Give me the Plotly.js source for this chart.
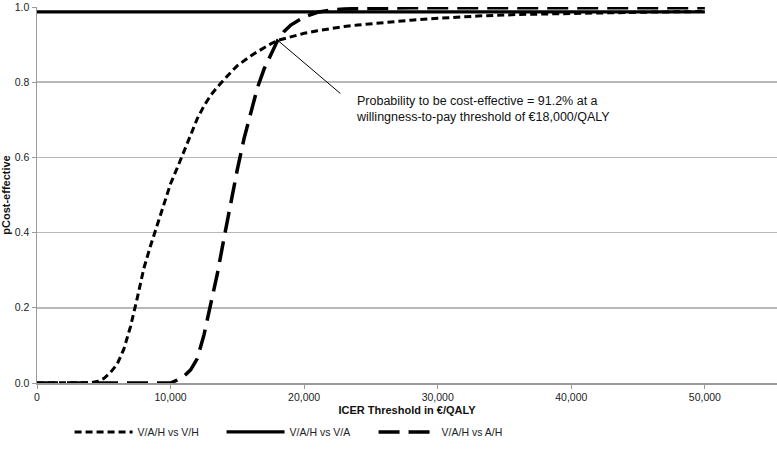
<!DOCTYPE html>
<html>
<head>
<meta charset="utf-8">
<script src="https://cdn.plot.ly/plotly-3.0.1.min.js"></script>
<style>html,body{margin:0;padding:0;background:#fff;}#chart{width:777px;height:463px;}</style>
</head>
<body>
<div id="chart"></div>
<script>
// ICER thresholds (€/QALY)
var thresholds = [0,1000,2000,3000,4000,
  4500,5000,5500,6000,6500,7000,7500,8000,8500,9000,9500,10000,10500,11000,11500,12000,12500,13000,13500,14000,14500,15000,15500,16000,16500,17000,17500,18000,18500,19000,19500,20000,
  21000,22000,23000,24000,26000,28000,30000,33000,36000,40000,45000,50000];

// Probability cost-effective: V/A/H vs V/H
var pVH = [0,0,0,0,0.001,
  0.004,0.012,0.028,0.05,0.09,0.15,0.225,0.305,0.365,0.42,0.475,0.53,0.572,0.615,0.663,0.703,0.737,0.765,0.787,0.807,0.826,0.844,0.858,0.87,0.881,0.892,0.902,0.911,0.916,0.921,0.926,0.93,
  0.937,0.943,0.948,0.952,0.959,0.965,0.97,0.976,0.98,0.983,0.986,0.988];

// V/A/H vs V/A
var pVA = [0.987,0.987,0.987,0.987,0.987,
  0.987,0.987,0.987,0.987,0.987,0.987,0.987,0.987,0.987,0.987,0.987,0.987,0.987,0.987,0.987,0.987,0.987,0.987,0.987,0.987,0.987,0.987,0.987,0.987,0.987,0.987,0.987,0.987,0.987,0.987,0.987,0.987,
  0.987,0.987,0.987,0.987,0.987,0.987,0.987,0.987,0.987,0.987,0.987,0.987];

// V/A/H vs A/H
var pAH = [0,0,0,0,0,
  0,0,0,0,0,0,0,0,0,0,0,0,0.008,0.018,0.035,0.065,0.128,0.208,0.29,0.385,0.478,0.568,0.65,0.72,0.785,0.835,0.875,0.91,0.935,0.952,0.963,0.973,
  0.986,0.992,0.995,0.996,0.997,0.998,0.998,0.998,0.998,0.998,0.998,0.998];

var seriesNames = ['V/A/H vs V/H', 'V/A/H vs V/A', 'V/A/H vs A/H'];

var xTicks = [0,10000,20000,30000,40000,50000];
var yTicks = [0,0.2,0.4,0.6,0.8,1.0];

var annText = 'Probability to be cost-effective = 91.2% at a<br>willingness-to-pay threshold of €18,000/QALY';
var annPoint = {x: 18000, y: 0.912};

var FONT = '"Liberation Sans", Arial, Helvetica, sans-serif';

var traces = [
  {x: thresholds, y: pVH, name: seriesNames[0], mode: 'lines', line: {color: '#000', width: 3, dash: '7px,4px'}},
  {x: thresholds, y: pVA, name: seriesNames[1], mode: 'lines', line: {color: '#000', width: 3.2}},
  {x: thresholds, y: pAH, name: seriesNames[2], mode: 'lines', line: {color: '#000', width: 3.5, dash: '21px,9px'}}
];

var layout = {
  width: 777, height: 463,
  margin: {l: 37, r: 0, t: 7, b: 80},
  paper_bgcolor: '#fff', plot_bgcolor: '#fff',
  font: {family: FONT, size: 10.5, color: '#222'},
  showlegend: true,
  legend: {orientation: 'h', x: 0.044, xanchor: 'left', y: -0.13, yanchor: 'middle',
    font: {family: FONT, size: 10.5, color: '#222'}, itemwidth: 58, entrywidth: 79, entrywidthmode: 'pixels',
    traceorder: 'normal'},
  xaxis: {
    range: [0, 55400], tickvals: xTicks, tickformat: ',d',
    showgrid: false, zeroline: false,
    showline: true, linecolor: '#9a9a9a', linewidth: 1.5,
    ticks: 'outside', ticklen: 4, tickcolor: '#9a9a9a', tickwidth: 1,
    title: {text: '<b>ICER Threshold in €/QALY</b>', font: {family: FONT, size: 11, color: '#111'}, standoff: 4},
    tickfont: {family: FONT, size: 10.5, color: '#222'}
  },
  yaxis: {
    range: [0, 1], tickvals: yTicks, tickformat: '.1f',
    ticklabeloverflow: 'allow',
    showgrid: true, gridcolor: '#b8b8b8', gridwidth: 1.5,
    zeroline: false,
    showline: true, linecolor: '#9a9a9a', linewidth: 1.5,
    ticks: 'outside', ticklen: 4, tickcolor: '#9a9a9a', tickwidth: 1,
    title: {text: '<b>pCost-effective</b>', font: {family: FONT, size: 11, color: '#111'}, standoff: 2},
    tickfont: {family: FONT, size: 10.5, color: '#222'}
  },
  annotations: [
    {x: annPoint.x, y: annPoint.y, xref: 'x', yref: 'y', text: ' ', showarrow: true,
     arrowhead: 0, arrowwidth: 1, arrowcolor: '#000', ax: 66, ay: 56, standoff: 0, startstandoff: 0},
    {x: 23700, y: 0.728, xref: 'x', yref: 'y', text: annText, showarrow: false,
     xanchor: 'left', yanchor: 'middle', align: 'left',
     font: {family: FONT, size: 12.5, color: '#111'}}
  ]
};

Plotly.newPlot('chart', traces, layout, {displayModeBar: false, staticPlot: true});
</script>
</body>
</html>
